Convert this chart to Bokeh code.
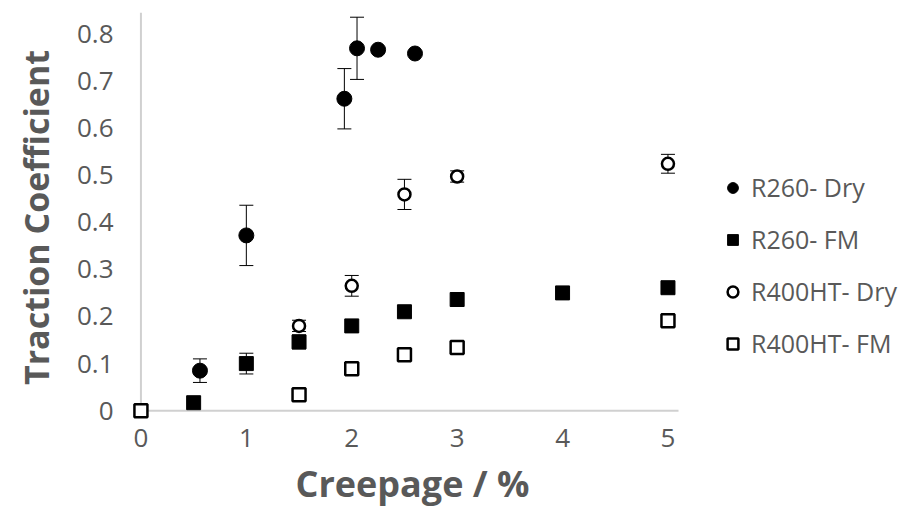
from bokeh.plotting import figure
from bokeh.models import (ColumnDataSource, Whisker, TeeHead, Legend, LegendItem,
                          FixedTicker, Range1d, Title)
from bokeh.embed import file_html
from bokeh.resources import INLINE

# ---- data ----
r260_dry_x = [0.56, 1.0, 1.93, 2.05, 2.25, 2.6]
r260_dry_y = [0.085, 0.372, 0.662, 0.769, 0.766, 0.758]
r260_dry_err = [0.025, 0.064, 0.064, 0.066, 0.0, 0.0]

r260_fm_x = [0.5, 1.0, 1.5, 2.0, 2.5, 3.0, 4.0, 5.0]
r260_fm_y = [0.017, 0.1, 0.146, 0.18, 0.21, 0.236, 0.25, 0.261]
r260_fm_err = [0.0, 0.022, 0.015, 0.0, 0.0, 0.0, 0.0, 0.0]

r400_dry_x = [1.5, 2.0, 2.5, 3.0, 5.0]
r400_dry_y = [0.18, 0.265, 0.459, 0.497, 0.524]
r400_dry_err = [0.012, 0.022, 0.032, 0.012, 0.02]

r400_fm_x = [0.0, 1.5, 2.0, 2.5, 3.0, 5.0]
r400_fm_y = [0.0, 0.034, 0.089, 0.119, 0.134, 0.191]
r400_fm_err = [0.0, 0.0, 0.0, 0.0, 0.0, 0.014]

x_ticks = [0, 1, 2, 3, 4, 5]
y_ticks = [0, 0.1, 0.2, 0.3, 0.4, 0.5, 0.6, 0.7, 0.8]
y_tick_labels = ["0", "0.1", "0.2", "0.3", "0.4", "0.5", "0.6", "0.7", "0.8"]

series_names = ["R260- Dry", "R260- FM", "R400HT- Dry", "R400HT- FM"]

FONT = "Open Sans"
GRAY = "#595959"
AXIS_GRAY = "#d0d0d0"

p = figure(width=906, height=518, output_backend="svg", toolbar_location=None,
           x_range=Range1d(-0.08, 7.263), y_range=Range1d(-0.025, 0.845),
           min_border_left=132, min_border_right=0, min_border_top=12,
           min_border_bottom=96)
p.outline_line_color = None
p.grid.grid_line_color = None
p.background_fill_color = "white"

# axes styling
for ax in (p.xaxis[0], p.yaxis[0]):
    ax.axis_line_color = None
    ax.major_tick_line_color = None
    ax.minor_tick_line_color = None
    ax.major_label_text_font = FONT
    ax.major_label_text_color = GRAY
    ax.major_label_text_font_size = "26px"
    ax.axis_label_text_font = FONT
    ax.axis_label_text_font_style = "bold"
    ax.axis_label_text_color = GRAY
    ax.axis_label_text_font_size = "34px"

p.xaxis.ticker = FixedTicker(ticks=x_ticks)
p.yaxis.ticker = FixedTicker(ticks=y_ticks)
p.yaxis.major_label_overrides = {t: l for t, l in zip(y_ticks, y_tick_labels)}
p.yaxis.axis_label = "Traction Coefficient"
p.xaxis.major_label_standoff = 0
p.yaxis.major_label_standoff = 13
p.yaxis.axis_label_standoff = 15

# x-axis title placed under the data area (not the whole frame)
xt = Title(text="Creepage / %", align="left", offset=163, standoff=14,
           text_font=FONT, text_font_style="bold", text_color=GRAY,
           text_font_size="36px")
p.add_layout(xt, "below")

# axis lines at data zero
p.segment(x0=[0], y0=[0], x1=[5.1], y1=[0], line_color=AXIS_GRAY, line_width=2)
p.segment(x0=[0], y0=[0], x1=[0], y1=[0.845], line_color=AXIS_GRAY, line_width=2)


def add_whiskers(xs, ys, errs):
    xx = [x for x, e in zip(xs, errs) if e > 0]
    lo = [y - e for y, e in zip(ys, errs) if e > 0]
    hi = [y + e for y, e in zip(ys, errs) if e > 0]
    src = ColumnDataSource(dict(x=xx, lo=lo, hi=hi))
    w = Whisker(source=src, base="x", lower="lo", upper="hi",
                line_color="black", line_width=1,
                lower_head=TeeHead(size=14, line_color="black", line_width=1),
                upper_head=TeeHead(size=14, line_color="black", line_width=1))
    p.add_layout(w)


add_whiskers(r260_dry_x, r260_dry_y, r260_dry_err)
add_whiskers(r260_fm_x, r260_fm_y, r260_fm_err)
add_whiskers(r400_dry_x, r400_dry_y, r400_dry_err)
add_whiskers(r400_fm_x, r400_fm_y, r400_fm_err)

r1 = p.scatter(r260_dry_x, r260_dry_y, marker="circle", size=15,
               fill_color="black", line_color="black")
r2 = p.scatter(r260_fm_x, r260_fm_y, marker="square", size=14,
               fill_color="black", line_color="black")
r3 = p.scatter(r400_dry_x, r400_dry_y, marker="circle", size=12,
               fill_color="white", line_color="black", line_width=2.5)
r4 = p.scatter(r400_fm_x, r400_fm_y, marker="square", size=13,
               fill_color="white", line_color="black", line_width=2.5)

legend = Legend(items=[LegendItem(label=n, renderers=[r]) for n, r in
                       zip(series_names, [r1, r2, r3, r4])],
                location=(587, 62), orientation="vertical",
                glyph_width=27, glyph_height=27, label_height=27,
                spacing=18, label_standoff=5, padding=0, margin=0,
                border_line_color=None, background_fill_alpha=0,
                label_text_font=FONT, label_text_color=GRAY,
                label_text_font_size="25px", label_text_baseline="middle")
p.add_layout(legend)

open("out.html", "w").write(file_html(p, INLINE))
